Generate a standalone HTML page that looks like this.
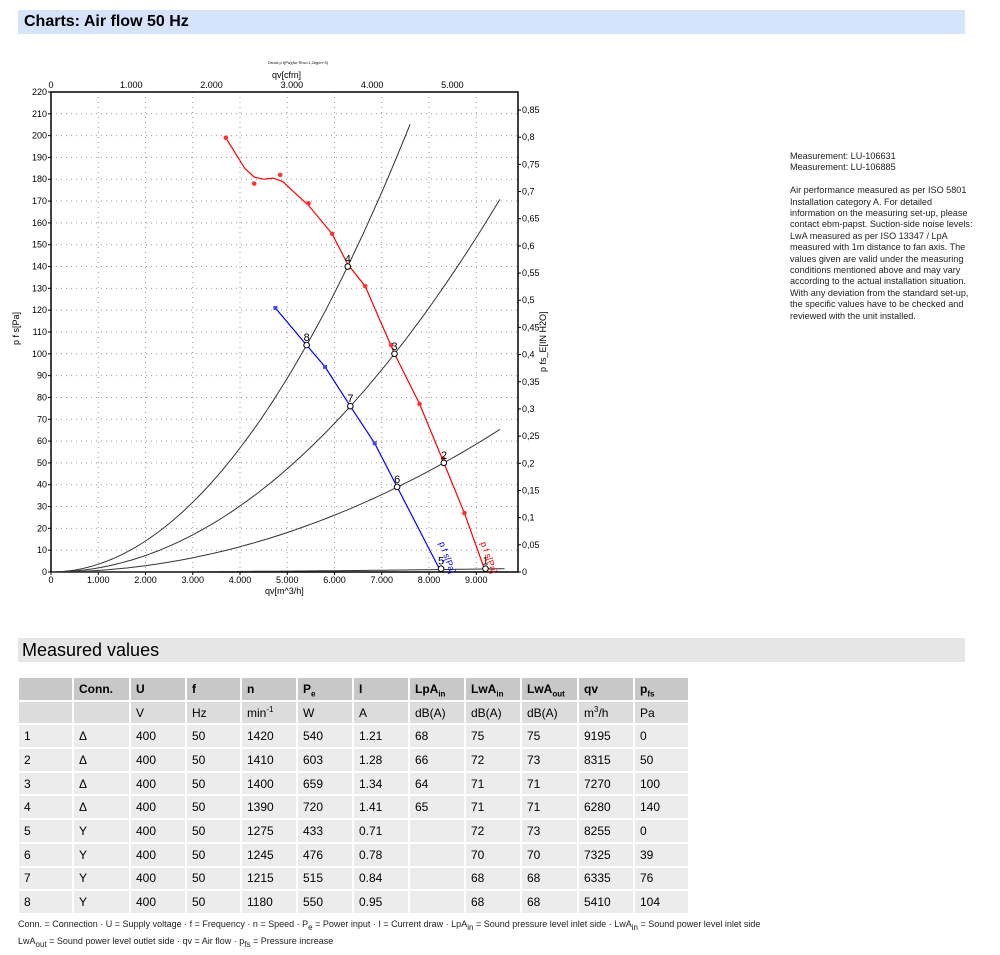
<!DOCTYPE html>
<html><head><meta charset="utf-8"><style>
body{margin:0;background:#fff;font-family:"Liberation Sans",sans-serif;}
.band{position:absolute;left:18px;width:947px;}
#h1{top:10px;height:24px;background:#d5e3fb;font-size:16px;font-weight:bold;line-height:24px;padding-left:6px;box-sizing:border-box;}
#h2{top:638px;height:24px;background:#e6e6e6;font-size:18px;line-height:24px;padding-left:4px;box-sizing:border-box;}
#note{position:absolute;left:790px;top:151px;width:185px;font-size:9.1px;line-height:11.4px;color:#222;}
table{position:absolute;left:17px;top:676px;border-collapse:separate;border-spacing:2px;font-size:12px;}
td{height:21.7px;padding:0 5px;box-sizing:border-box;line-height:14px;}
tr.h td{background:#c8c8c8;font-weight:bold;}
tr.u td{background:#dcdcdc;}
tr.d td{background:#ececec;}
sub,sup{font-size:8px;line-height:0;}
#foot{position:absolute;left:18px;top:916px;font-size:9px;line-height:17px;color:#222;}
</style></head><body>
<div id="h1" class="band">Charts: Air flow 50 Hz</div>
<svg id="c" width="1000" height="620" style="position:absolute;left:0;top:0" font-family="Liberation Sans, sans-serif" font-size="9">
<g id="grid" stroke="#999" stroke-dasharray="1,4" stroke-width="1"></g>
<rect x="51" y="92" width="467" height="480" fill="none" stroke="#000" stroke-width="1.5"/>
<g id="lab"></g>
<g id="curves" fill="none"></g>
<text x="268" y="64" font-size="4">Druck p f(Pa)(for Rho=1,2kg/m^3)</text>
<text x="272" y="78" font-size="9">qv[cfm]</text>
<text x="265" y="594" font-size="9">qv[m^3/h]</text>
<text transform="translate(19,345) rotate(-90)" font-size="9">p f s[Pa]</text>
<text transform="translate(546,372) rotate(-90)" font-size="9">p fs_E[IN H2O]</text>
</svg>
<div id="note">Measurement: LU-106631<br>Measurement: LU-106885<br><br>Air performance measured as per ISO 5801 Installation category A. For detailed information on the measuring set-up, please contact ebm-papst. Suction-side noise levels: LwA measured as per ISO 13347 / LpA measured with 1m distance to fan axis. The values given are valid under the measuring conditions mentioned above and may vary according to the actual installation situation. With any deviation from the standard set-up, the specific values have to be checked and reviewed with the unit installed.</div>
<div id="h2" class="band">Measured values</div>
<table>
<tr class="h"><td style="width:53px"></td><td style="width:55px">Conn.</td><td style="width:54px">U</td><td style="width:53px">f</td><td style="width:54px">n</td><td style="width:54px">P<sub>e</sub></td><td style="width:54px">I</td><td style="width:54px">LpA<sub>in</sub></td><td style="width:54px">LwA<sub>in</sub></td><td style="width:55px">LwA<sub>out</sub></td><td style="width:54px">qv</td><td style="width:53px">p<sub>fs</sub></td></tr>
<tr class="u"><td></td><td></td><td>V</td><td>Hz</td><td>min<sup>-1</sup></td><td>W</td><td>A</td><td>dB(A)</td><td>dB(A)</td><td>dB(A)</td><td>m<sup>3</sup>/h</td><td>Pa</td></tr>
<tr class="d"><td>1</td><td>Δ</td><td>400</td><td>50</td><td>1420</td><td>540</td><td>1.21</td><td>68</td><td>75</td><td>75</td><td>9195</td><td>0</td></tr>
<tr class="d"><td>2</td><td>Δ</td><td>400</td><td>50</td><td>1410</td><td>603</td><td>1.28</td><td>66</td><td>72</td><td>73</td><td>8315</td><td>50</td></tr>
<tr class="d"><td>3</td><td>Δ</td><td>400</td><td>50</td><td>1400</td><td>659</td><td>1.34</td><td>64</td><td>71</td><td>71</td><td>7270</td><td>100</td></tr>
<tr class="d"><td>4</td><td>Δ</td><td>400</td><td>50</td><td>1390</td><td>720</td><td>1.41</td><td>65</td><td>71</td><td>71</td><td>6280</td><td>140</td></tr>
<tr class="d"><td>5</td><td>Y</td><td>400</td><td>50</td><td>1275</td><td>433</td><td>0.71</td><td></td><td>72</td><td>73</td><td>8255</td><td>0</td></tr>
<tr class="d"><td>6</td><td>Y</td><td>400</td><td>50</td><td>1245</td><td>476</td><td>0.78</td><td></td><td>70</td><td>70</td><td>7325</td><td>39</td></tr>
<tr class="d"><td>7</td><td>Y</td><td>400</td><td>50</td><td>1215</td><td>515</td><td>0.84</td><td></td><td>68</td><td>68</td><td>6335</td><td>76</td></tr>
<tr class="d"><td>8</td><td>Y</td><td>400</td><td>50</td><td>1180</td><td>550</td><td>0.95</td><td></td><td>68</td><td>68</td><td>5410</td><td>104</td></tr>
</table>
<div id="foot">Conn. = Connection · U = Supply voltage · f = Frequency · n = Speed · P<sub>e</sub> = Power input · I = Current draw · LpA<sub>in</sub> = Sound pressure level inlet side · LwA<sub>in</sub> = Sound power level inlet side<br>LwA<sub>out</sub> = Sound power level outlet side · qv = Air flow · p<sub>fs</sub> = Pressure increase</div>
<script>
var NS="http://www.w3.org/2000/svg";
function X(q){return 51+q*0.04725;}function Y(p){return 572-p*2.182;}
function el(par,tag,a,txt){var e=document.createElementNS(NS,tag);for(var k in a)e.setAttribute(k,a[k]);if(txt!=null)e.textContent=txt;document.getElementById(par).appendChild(e);return e;}
for(var q=1000;q<=9000;q+=1000){el("grid","line",{x1:X(q),x2:X(q),y1:92,y2:572});}
for(var p=10;p<220;p+=10){el("grid","line",{x1:51,x2:518,y1:Y(p),y2:Y(p)});}
for(var p=0;p<=220;p+=10){el("lab","text",{x:47,y:Y(p)+3,"text-anchor":"end"},String(p));el("lab","line",{x1:48,x2:51,y1:Y(p),y2:Y(p),stroke:"#000"});}
for(var q=0;q<=9000;q+=1000){el("lab","text",{x:X(q),y:583,"text-anchor":"middle"},q==0?"0":(q/1000)+".000");el("lab","line",{x1:X(q),x2:X(q),y1:572,y2:575,stroke:"#000"});}
for(var c=0;c<=5000;c+=1000){el("lab","text",{x:X(c*1.699),y:88,"text-anchor":"middle"},c==0?"0":(c/1000)+".000");}
for(var i=0;i<=17;i++){var v=i*0.05;var yy=Y(v*249.09);el("lab","line",{x1:518,x2:521,y1:yy,y2:yy,stroke:"#000"});el("lab","text",{x:522,y:yy+3},i==0?"0":String(Math.round(v*100)/100).replace(".",","));}
function sys(k,qmax,q0){var d="";for(var q=q0;q<=qmax;q+=100){d+=(d?"L":"M")+X(q).toFixed(1)+","+Y(k*q*q).toFixed(1);}el("curves","path",{d:d,stroke:"#333","stroke-width":1});}
sys(3.552e-6,7650,0);sys(1.892e-6,9580,0);sys(7.24e-7,9500,0);sys(1.65e-8,9600,0);
function line(pts,col){var d="";pts.forEach(function(p,i){d+=(i?"L":"M")+X(p[0]).toFixed(1)+","+Y(p[1]).toFixed(1);});el("curves","path",{d:d,stroke:col,"stroke-width":1.2});}
line([[3700,199],[3900,192],[4100,185],[4300,181],[4500,180],[4700,180.5],[4900,179],[5150,174],[5450,168],[5950,155],[6280,141],[6650,131],[7270,100],[7800,77],[8315,50],[8750,27],[9195,0]],"#f00");
line([[4750,121],[5410,104],[5800,94],[6335,76],[6850,59],[7325,39],[8255,0]],"#00f");
[[3700,199],[4300,178],[4850,182],[5450,169],[5950,155],[6650,131],[7200,104],[7800,77],[8300,52],[8750,27]].forEach(function(p){el("curves","circle",{cx:X(p[0]),cy:Y(p[1]),r:2.3,fill:"#f33"});});
[[4750,121],[5800,94],[6850,59]].forEach(function(p){el("curves","rect",{x:X(p[0])-2,y:Y(p[1])-2,width:4,height:4,fill:"#44f"});});
[[9195,1.5,"1"],[8315,50,"2"],[7270,100,"3"],[6280,140,"4"],[8255,1.5,"5"],[7325,39,"6"],[6335,76,"7"],[5410,104,"8"]].forEach(function(p){el("curves","circle",{cx:X(p[0]),cy:Y(p[1]),r:2.8,fill:"#fff",stroke:"#000"});el("curves","text",{x:X(p[0])-3,y:Y(p[1])-4,"font-size":"11",fill:"#000",stroke:"none"},p[2]);});
el("curves","text",{transform:"translate("+(X(8250)-2)+",543) rotate(70)",fill:"#00f",stroke:"none","font-size":"9"},"p f s[Pa]");
el("curves","text",{transform:"translate("+(X(9150)-3)+",543) rotate(70)",fill:"#f00",stroke:"none","font-size":"9"},"p f s[Pa]");
</script>
</body></html>
